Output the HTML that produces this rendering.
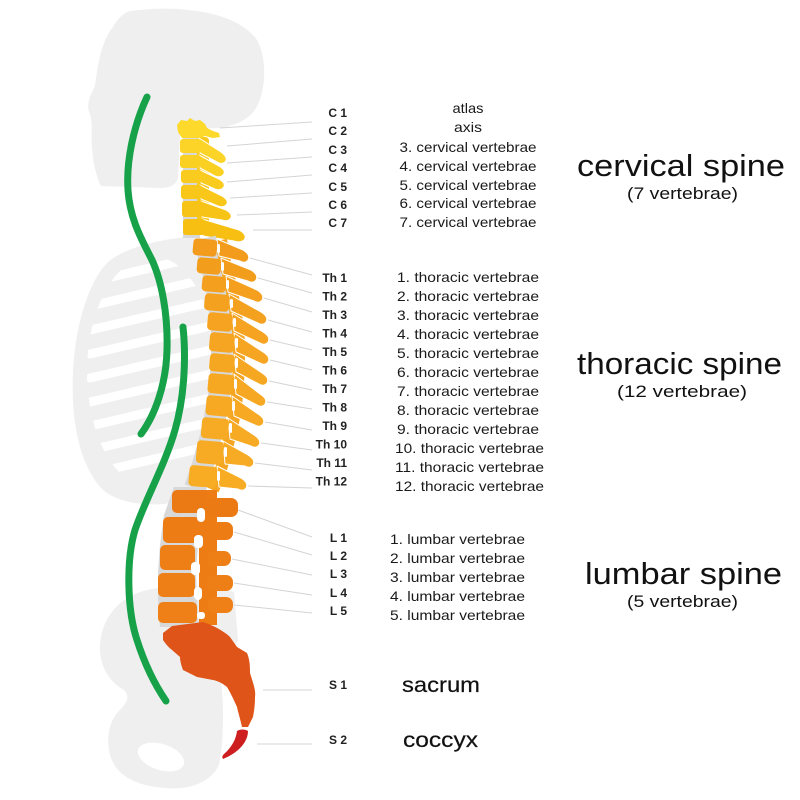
<!DOCTYPE html>
<html><head><meta charset="utf-8"><style>
html,body{margin:0;padding:0;background:#fff;}
svg{display:block;}
text{font-family:"Liberation Sans",Arial,sans-serif;}
</style></head><body>
<svg width="800" height="800" viewBox="0 0 800 800" xmlns="http://www.w3.org/2000/svg">
<defs>
<clipPath id="ribin"><ellipse cx="152" cy="372" rx="65" ry="116"/></clipPath>
</defs>
<rect width="800" height="800" fill="#fff"/>

<!-- silhouette -->
<g fill="#efefef">
<path d="M130,11 C180,4 238,12 257,40 C268,60 266,95 254,111 C246,121 233,126 220,128 L190,129 L180,136 L178,178 C176,185 170,188 160,188 L101,186 C96,176 93,162 92,148 C91,135 93,124 90,114 C86,106 89,98 95,86 C98,64 101,42 113,27 C118,18 124,13 130,11 Z"/>
<path d="M196,236 C160,239 126,247 108,262 C90,280 76,320 73,370 C71,420 78,460 100,487 C112,500 135,506 165,504 L190,497 L205,470 L212,300 Z"/>
<path d="M140,592 C165,584 205,584 234,592 L238,640 C232,655 224,668 221,680 C224,705 224,740 219,765 C210,783 190,790 165,788 C138,786 118,777 111,758 C105,740 109,722 118,712 C126,704 131,697 124,690 C110,682 100,668 100,648 C100,622 116,600 140,592 Z"/>
</g>
<ellipse cx="161" cy="757" rx="24" ry="13" transform="rotate(18 161 757)" fill="#fff"/>
<g clip-path="url(#ribin)" stroke="#fff" stroke-width="9" stroke-linecap="round">
<line x1="90" y1="282" x2="215" y2="253"/>
<line x1="90" y1="306" x2="215" y2="277"/>
<line x1="90" y1="330" x2="215" y2="301"/>
<line x1="90" y1="354" x2="215" y2="325"/>
<line x1="90" y1="378" x2="215" y2="349"/>
<line x1="90" y1="402" x2="215" y2="373"/>
<line x1="90" y1="426" x2="215" y2="397"/>
<line x1="90" y1="450" x2="215" y2="421"/>
<line x1="90" y1="474" x2="215" y2="445"/>
</g>

<!-- green curves -->
<g fill="none" stroke="#17a24a" stroke-width="7" stroke-linecap="round">
<path d="M147,97 C134,125 126,160 128,190 C130,220 142,240 152,260 C162,282 168,315 167,350 C166,385 155,415 141,434"/>
<path d="M183,327 C186,355 185,395 175,430 C165,465 145,500 135,530 C126,560 127,610 137,640 C145,665 155,685 166,701"/>
</g>

<!-- leader lines -->
<g stroke="#d4d4d4" stroke-width="1">
<line x1="220" y1="128" x2="312" y2="122"/>
<line x1="227" y1="146" x2="312" y2="139"/>
<line x1="227" y1="163" x2="312" y2="157"/>
<line x1="227" y1="182" x2="312" y2="175"/>
<line x1="230" y1="198" x2="312" y2="193"/>
<line x1="237" y1="215" x2="312" y2="212"/>
<line x1="253" y1="230" x2="312" y2="230"/>
<line x1="250" y1="258" x2="312" y2="275"/>
<line x1="258" y1="278" x2="312" y2="293"/>
<line x1="264" y1="298" x2="312" y2="312"/>
<line x1="268" y1="320" x2="312" y2="332"/>
<line x1="270" y1="340" x2="312" y2="350"/>
<line x1="270" y1="360" x2="312" y2="370"/>
<line x1="269" y1="381" x2="312" y2="390"/>
<line x1="267" y1="402" x2="312" y2="409"/>
<line x1="265" y1="422" x2="312" y2="430"/>
<line x1="261" y1="443" x2="312" y2="450"/>
<line x1="255" y1="463" x2="312" y2="470"/>
<line x1="248" y1="486" x2="312" y2="488"/>
<line x1="238" y1="510" x2="312" y2="537"/>
<line x1="234" y1="532" x2="312" y2="555"/>
<line x1="232" y1="559" x2="312" y2="575"/>
<line x1="234" y1="583" x2="312" y2="595"/>
<line x1="234" y1="605" x2="312" y2="613"/>
<line x1="263" y1="690" x2="312" y2="690"/>
<line x1="257" y1="744" x2="312" y2="744"/>
</g>

<!-- cervical -->
<rect x="183" y="136" width="17" height="102" fill="#d8d8d8"/>
<rect x="197" y="137" width="12" height="98" rx="4" fill="#f8c81b"/>
<g stroke="#fff" stroke-width="1" stroke-linejoin="round">
<path d="M202,219 L239,230 Q248,235 244,240 Q240,243 234,241 L203,236 Z" fill="#f6bf12"/>
<path d="M201,201 L226,210 Q234,215 230,219 Q227,222 222,220 L202,217 Z" fill="#f7c316"/>
<path d="M200,185 L222,196 Q230,201 226,205 Q223,208 218,206 L201,199 Z" fill="#f8c71a"/>
<path d="M200,170 L219,179 Q227,184 223,188 Q220,191 215,189 L201,183 Z" fill="#f9cb1f"/>
<path d="M199,155 L219,166 Q227,171 223,175 Q220,178 215,176 L200,168 Z" fill="#fad023"/>
<path d="M199,138 L221,152 Q229,158 225,162 Q222,165 217,162 L200,153 Z" fill="#fbd427"/>
</g>
<path d="M177,125 L181,120 L187,121 L190,118 L195,121 L200,120 L205,124 L207,128 L213,131 L219,133 L220,137 L213,138 L205,136 L200,138 L182,138 L178,132 Z" fill="#fcd92b"/>
<g>
<rect x="180" y="139" width="21" height="14" rx="3" fill="#fbd427"/>
<rect x="180" y="155" width="21" height="13" rx="3" fill="#fad023"/>
<rect x="181" y="170" width="21" height="13" rx="3" fill="#f9cb1f"/>
<rect x="181" y="185" width="21" height="14" rx="3" fill="#f8c71a"/>
<rect x="182" y="201" width="21" height="16" rx="3" fill="#f7c316"/>
<rect x="183" y="219" width="22" height="16" rx="3" fill="#f6bf12"/>
</g>

<!-- thoracic discs backing -->
<polyline points="205,238 209,257 214,275 217,293 220,312 222,332 222,353 221,373 219,395 215,417 210,440 203,465 195,488" fill="none" stroke="#d8d8d8" stroke-width="22"/>
<!-- thoracic pillar -->
<polyline points="221,240 225,262 230,282 234,302 237,322 239,342 239,362 238,384 236,406 232,428 226,452 219,476 213,490" fill="none" stroke="#f5a521" stroke-width="12" stroke-linejoin="round"/>
<!-- thoracic processes (bottom to top) -->
<g stroke="#fff" stroke-width="1" stroke-linejoin="round">
<path d="M217,466 L241,478 Q249,483 246,488 Q243,492 238,489 L219,487 Z" fill="#f8ac24"/>
<path d="M223,441 L248,455 Q256,460 253,465 Q250,469 245,466 L225,464 Z" fill="#f7ab24"/>
<path d="M228,418 L254,435 Q262,440 259,445 Q256,449 251,446 L230,439 Z" fill="#f7aa23"/>
<path d="M232,396 L258,414 Q266,419 263,424 Q260,428 255,425 L234,416 Z" fill="#f7a923"/>
<path d="M234,374 L260,394 Q268,399 265,404 Q262,408 257,405 L236,394 Z" fill="#f6a822"/>
<path d="M234,354 L262,373 Q270,378 267,383 Q264,387 259,384 L236,372 Z" fill="#f6a722"/>
<path d="M234,333 L263,352 Q271,357 268,362 Q265,366 260,363 L236,352 Z" fill="#f5a521"/>
<path d="M232,313 L263,332 Q271,337 268,342 Q265,346 260,343 L234,331 Z" fill="#f5a320"/>
<path d="M229,294 L261,312 Q269,317 266,322 Q263,326 258,323 L231,311 Z" fill="#f4a11f"/>
<path d="M226,276 L257,290 Q265,295 262,300 Q259,304 254,301 L228,292 Z" fill="#f49f1e"/>
<path d="M221,258 L251,270 Q259,275 256,280 Q253,284 248,281 L223,274 Z" fill="#f39d1d"/>
<path d="M217,239 L243,250 Q251,255 248,260 Q245,264 240,261 L219,256 Z" fill="#f39b1c"/>
</g>
<!-- thoracic bodies -->
<g>
<rect x="193" y="239" width="24" height="17" rx="4" fill="#f39b1c" transform="rotate(5 205 247)"/>
<rect x="197" y="258" width="24" height="16" rx="4" fill="#f39d1d" transform="rotate(5 209 266)"/>
<rect x="202" y="276" width="24" height="16" rx="4" fill="#f49f1e" transform="rotate(5 214 284)"/>
<rect x="204.5" y="294" width="25" height="17" rx="4" fill="#f4a11f" transform="rotate(5 217 302)"/>
<rect x="207.5" y="313" width="25" height="18" rx="4" fill="#f5a320" transform="rotate(5 220 322)"/>
<rect x="209.5" y="333" width="25" height="19" rx="4" fill="#f5a521" transform="rotate(5 222 342)"/>
<rect x="209.5" y="354" width="25" height="18" rx="4" fill="#f6a722" transform="rotate(5 222 363)"/>
<rect x="208" y="374" width="26" height="20" rx="4" fill="#f6a822" transform="rotate(5 221 384)"/>
<rect x="206" y="396" width="26" height="20" rx="4" fill="#f7a923" transform="rotate(5 219 406)"/>
<rect x="201.5" y="418" width="27" height="21" rx="4" fill="#f7aa23" transform="rotate(5 215 428)"/>
<rect x="196.5" y="441" width="27" height="23" rx="4" fill="#f7ab24" transform="rotate(5 210 452)"/>
<rect x="189" y="466" width="28" height="21" rx="4" fill="#f8ac24" transform="rotate(5 203 476)"/>
</g>
<!-- white hooks -->
<g fill="#fff">
<rect x="217" y="244" width="3" height="9" rx="1.5"/>
<rect x="221" y="262" width="3" height="9" rx="1.5"/>
<rect x="226" y="280" width="3" height="9" rx="1.5"/>
<rect x="230" y="299" width="3" height="9" rx="1.5"/>
<rect x="233" y="318" width="3" height="9" rx="1.5"/>
<rect x="235" y="338" width="3" height="10" rx="1.5"/>
<rect x="235" y="358" width="3" height="10" rx="1.5"/>
<rect x="234" y="379" width="3" height="10" rx="1.5"/>
<rect x="232" y="401" width="3" height="10" rx="1.5"/>
<rect x="229" y="423" width="3" height="10" rx="1.5"/>
<rect x="224" y="447" width="3" height="10" rx="1.5"/>
<rect x="217" y="471" width="3" height="10" rx="1.5"/>
</g>

<!-- lumbar -->
<polygon points="174,487 207,487 201,515 198,545 196,572 197,600 199,627 160,627 158,600 158,572 160,545 164,515" fill="#d8d8d8"/>
<rect x="199" y="490" width="18" height="135" fill="#ed7c15"/>
<g>
<rect x="207" y="498" width="31" height="19" rx="7" fill="#ec7a14"/>
<rect x="208" y="522" width="25" height="18" rx="7" fill="#ed7c15"/>
<rect x="207" y="551" width="24" height="15" rx="7" fill="#ee7e16"/>
<rect x="207" y="575" width="26" height="16" rx="7" fill="#ee7f16"/>
<rect x="208" y="597" width="25" height="16" rx="7" fill="#ef8017"/>
</g>
<g>
<rect x="172" y="490" width="35" height="23" rx="5" fill="#ec7a14"/>
<rect x="163" y="517" width="37" height="26" rx="5" fill="#ed7c15"/>
<rect x="160" y="545" width="35" height="25" rx="5" fill="#ee7e16"/>
<rect x="158" y="573" width="37" height="24" rx="5" fill="#ee7f16"/>
<rect x="158" y="602" width="39" height="21" rx="5" fill="#ef8017"/>
</g>
<g fill="#fff">
<rect x="197" y="508" width="8" height="14" rx="4"/>
<rect x="194" y="535" width="9" height="13" rx="4"/>
<rect x="191" y="562" width="9" height="13" rx="4"/>
<rect x="194" y="587" width="8" height="13" rx="4"/>
<rect x="197" y="612" width="8" height="7" rx="3"/>
</g>

<!-- sacrum -->
<path d="M163,633 L172,626 L203,622 C215,626 225,632 230,637 L237,647 L247,653 C250,660 250,667 250,673 C253,683 256,690 255,697 C255,705 254,712 253,717 L248,727 L242,727 C240,718 238,712 237,707 C233,698 230,692 227,687 C222,683 218,681 213,680 L197,677 L183,670 C181,665 180,660 180,657 L172,650 C168,647 165,643 163,640 Z" fill="#df5519"/>
<!-- coccyx -->
<path d="M237,731 C240,729 245,729 248,731 C248,741 240,752 223,759 C222,757 222,756 224,754 C232,747 236,739 237,731 Z" fill="#cd1f1f"/>

<!-- small labels -->
<g font-size="12" font-weight="bold" fill="#222" text-anchor="end">
<text x="347" y="117">C 1</text>
<text x="347" y="135">C 2</text>
<text x="347" y="154">C 3</text>
<text x="347" y="172">C 4</text>
<text x="347" y="191">C 5</text>
<text x="347" y="209">C 6</text>
<text x="347" y="227">C 7</text>
<text x="347" y="282">Th 1</text>
<text x="347" y="300.5">Th 2</text>
<text x="347" y="319">Th 3</text>
<text x="347" y="337.5">Th 4</text>
<text x="347" y="356">Th 5</text>
<text x="347" y="374.5">Th 6</text>
<text x="347" y="393">Th 7</text>
<text x="347" y="411.5">Th 8</text>
<text x="347" y="430">Th 9</text>
<text x="347" y="448.5">Th 10</text>
<text x="347" y="467">Th 11</text>
<text x="347" y="485.5">Th 12</text>
<text x="347" y="542">L 1</text>
<text x="347" y="560">L 2</text>
<text x="347" y="578">L 3</text>
<text x="347" y="597">L 4</text>
<text x="347" y="615">L 5</text>
<text x="347" y="689">S 1</text>
<text x="347" y="744">S 2</text>
</g>

<!-- middle column -->
<g font-size="14" fill="#1a1a1a" text-anchor="middle">
<text x="468" y="113" textLength="31" lengthAdjust="spacingAndGlyphs">atlas</text>
<text x="468" y="132" textLength="28" lengthAdjust="spacingAndGlyphs">axis</text>
<text x="468" y="152" textLength="137" lengthAdjust="spacingAndGlyphs">3. cervical vertebrae</text>
<text x="468" y="171" textLength="137" lengthAdjust="spacingAndGlyphs">4. cervical vertebrae</text>
<text x="468" y="190" textLength="137" lengthAdjust="spacingAndGlyphs">5. cervical vertebrae</text>
<text x="468" y="208" textLength="137" lengthAdjust="spacingAndGlyphs">6. cervical vertebrae</text>
<text x="468" y="227" textLength="137" lengthAdjust="spacingAndGlyphs">7. cervical vertebrae</text>
<text x="468" y="282" textLength="142" lengthAdjust="spacingAndGlyphs">1. thoracic vertebrae</text>
<text x="468" y="301" textLength="142" lengthAdjust="spacingAndGlyphs">2. thoracic vertebrae</text>
<text x="468" y="320" textLength="142" lengthAdjust="spacingAndGlyphs">3. thoracic vertebrae</text>
<text x="468" y="339" textLength="142" lengthAdjust="spacingAndGlyphs">4. thoracic vertebrae</text>
<text x="468" y="358" textLength="142" lengthAdjust="spacingAndGlyphs">5. thoracic vertebrae</text>
<text x="468" y="377" textLength="142" lengthAdjust="spacingAndGlyphs">6. thoracic vertebrae</text>
<text x="468" y="396" textLength="142" lengthAdjust="spacingAndGlyphs">7. thoracic vertebrae</text>
<text x="468" y="415" textLength="142" lengthAdjust="spacingAndGlyphs">8. thoracic vertebrae</text>
<text x="468" y="434" textLength="142" lengthAdjust="spacingAndGlyphs">9. thoracic vertebrae</text>
<text x="469.5" y="453" textLength="149" lengthAdjust="spacingAndGlyphs">10. thoracic vertebrae</text>
<text x="469.5" y="472" textLength="149" lengthAdjust="spacingAndGlyphs">11. thoracic vertebrae</text>
<text x="469.5" y="491" textLength="149" lengthAdjust="spacingAndGlyphs">12. thoracic vertebrae</text>
<text x="457.5" y="544" textLength="135" lengthAdjust="spacingAndGlyphs">1. lumbar vertebrae</text>
<text x="457.5" y="563" textLength="135" lengthAdjust="spacingAndGlyphs">2. lumbar vertebrae</text>
<text x="457.5" y="582" textLength="135" lengthAdjust="spacingAndGlyphs">3. lumbar vertebrae</text>
<text x="457.5" y="601" textLength="135" lengthAdjust="spacingAndGlyphs">4. lumbar vertebrae</text>
<text x="457.5" y="620" textLength="135" lengthAdjust="spacingAndGlyphs">5. lumbar vertebrae</text>
</g>
<g font-size="21" fill="#111" text-anchor="middle" stroke="#111" stroke-width="0.2">
<text x="441" y="692" textLength="78" lengthAdjust="spacingAndGlyphs">sacrum</text>
<text x="440.5" y="747" textLength="75" lengthAdjust="spacingAndGlyphs">coccyx</text>
</g>

<!-- titles -->
<g fill="#111" text-anchor="middle">
<text x="681" y="176" font-size="31" textLength="208" lengthAdjust="spacingAndGlyphs">cervical spine</text>
<text x="682.5" y="199" font-size="17" textLength="111" lengthAdjust="spacingAndGlyphs">(7 vertebrae)</text>
<text x="679.5" y="374" font-size="31" textLength="205" lengthAdjust="spacingAndGlyphs">thoracic spine</text>
<text x="682" y="397" font-size="17" textLength="130" lengthAdjust="spacingAndGlyphs">(12 vertebrae)</text>
<text x="683.5" y="584" font-size="31" textLength="197" lengthAdjust="spacingAndGlyphs">lumbar spine</text>
<text x="682.5" y="607" font-size="17" textLength="111" lengthAdjust="spacingAndGlyphs">(5 vertebrae)</text>
</g>
</svg>
</body></html>
